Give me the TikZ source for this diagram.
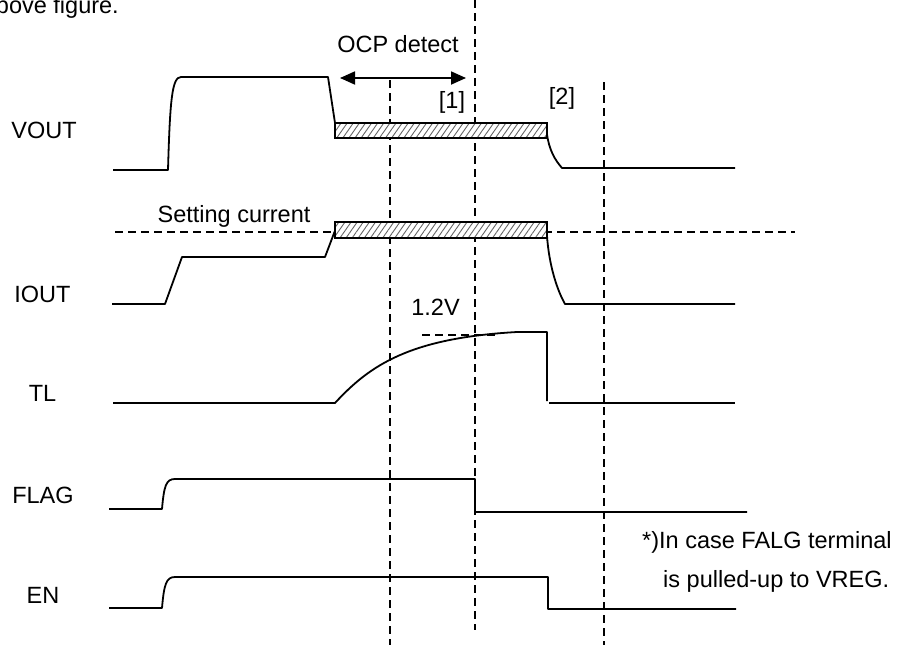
\documentclass[tikz,border=0pt]{standalone}
\usepackage{fontspec}
\setmainfont{Liberation Sans}
\usetikzlibrary{arrows.meta,patterns.meta}
\begin{document}
\begin{tikzpicture}[x=1pt,y=-1pt,
  wave/.style={line width=1.8pt, line join=round},
  guide/.style={line width=1.6pt, dash pattern=on 8pt off 5pt},
  lbl/.style={font=\fontsize{23.5}{28}\selectfont, inner sep=0pt},
  hatch/.style={draw, line width=1.6pt, preaction={fill=white},
    pattern={Lines[angle=55,distance=5pt,line width=0.9pt]}, pattern color=black!60},
  dimarrow/.style={line width=1.8pt, {Triangle[length=15pt,width=13pt]}-{Triangle[length=15pt,width=13pt]}}]
\useasboundingbox (0,0) rectangle (901,645);
\clip (0,0) rectangle (901,645);

% top cut-off text
\node[lbl, anchor=base east] (toptext) at (119,13) {above figure.};

% signal labels
\node[lbl, anchor=base] (vout) at (44,138) {VOUT};
\node[lbl, anchor=base] (iout) at (42.5,302) {IOUT};
\node[lbl, anchor=base] (tl) at (42.5,401) {TL};
\node[lbl, anchor=base] (flag) at (43,503) {FLAG};
\node[lbl, anchor=base] (en) at (43,603) {EN};

% annotations
\node[lbl, anchor=base] (ocp) at (398,52) {OCP detect};
\node[lbl, anchor=base] (m1) at (452,108) {[1]};
\node[lbl, anchor=base] (m2) at (562,104) {[2]};
\node[lbl, anchor=base] (setc) at (234,222) {Setting current};
\node[lbl, anchor=base] (v12) at (435.5,315) {1.2V};
\node[lbl, anchor=base west] (note1) at (642,548) {*)In case FALG terminal};
\node[lbl, anchor=base west] (note2) at (663,587) {is pulled-up to VREG.};

% guide lines
\draw[guide] (390,80) -- (390,645);
\draw[guide] (475,0) -- (475,630);
\draw[guide] (604,82) -- (604,645);
\draw[guide] (115,232) -- (795,232);
\draw[guide] (422,335) -- (495,335);

% OCP detect arrow
\coordinate (arrL) at (340,78);
\coordinate (arrR) at (466,78);
\draw[dimarrow] (arrL) -- (arrR);

% VOUT
\draw[wave] (113,170) -- (168,170) .. controls (170,100) and (172,77) .. (181,77) -- (328,77) -- (335,123);
\draw[wave] (547,134) .. controls (549,150) and (555,160) .. (562,168) -- (735,168);
\draw[hatch] (335,123) rectangle (547,138);

% IOUT
\draw[wave] (112,304) -- (165,304) -- (182,257) -- (325,257) -- (336,228);
\draw[wave] (547,236) .. controls (549,265) and (557,290) .. (565,304) -- (735,304);
\draw[hatch] (335,222) rectangle (547,238);

% TL
\draw[wave] (113,403) -- (335,403) .. controls (370,365) and (410,338) .. (517,332) -- (547,332) -- (547,401);
\draw[wave] (549,403) -- (735,403);

% FLAG
\draw[wave] (109,509) -- (162,509) .. controls (164,486) and (166,479) .. (175,479) -- (475,479) -- (475,512) -- (747,512);

% EN
\draw[wave] (109,608) -- (162,608) .. controls (164,585) and (166,577) .. (175,577) -- (548,577) -- (548,609) -- (736,609);
\end{tikzpicture}
\end{document}
